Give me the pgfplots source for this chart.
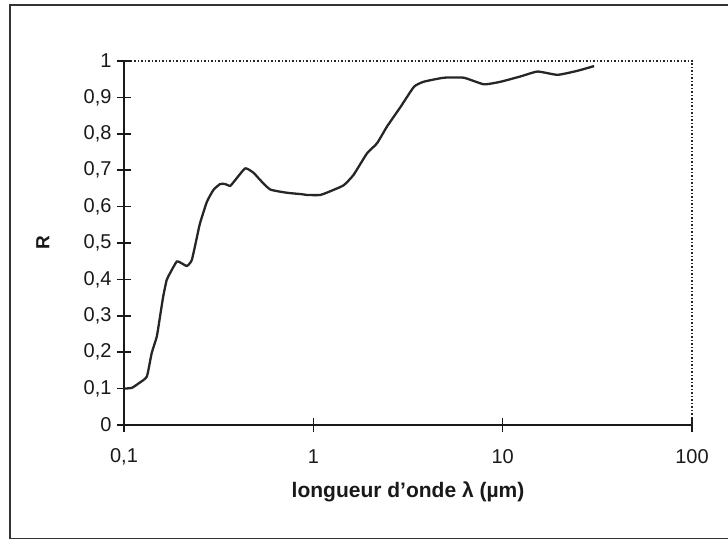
\documentclass[border=0pt]{standalone}
\usepackage{fontspec}
\setmainfont{Liberation Sans}
\usepackage{pgfplots}
\pgfplotsset{compat=1.18}
\begin{document}
\begin{tikzpicture}[x=1pt,y=1pt]
\path[use as bounding box] (0,0) rectangle (728,540);
\draw[line width=1.5pt, black!80] (728,535) -- (10,535) -- (10,1.5) -- (728,1.5);
\begin{axis}[
  at={(124pt,115pt)}, anchor=south west,
  scale only axis, width=568pt, height=364pt,
  xmode=log, log basis x=10,
  xmin=0.1, xmax=100, ymin=0, ymax=1,
  axis x line*=bottom, axis y line*=left,
  axis line style={line width=1.8pt, black!90, -},
  xtick={0.1,1,10,100}, xticklabels={{0,1},1,10,100},
  ytick={0,0.1,0.2,0.3,0.4,0.5,0.6,0.7,0.8,0.9,1},
  yticklabels={0,{0,1},{0,2},{0,3},{0,4},{0,5},{0,6},{0,7},{0,8},{0,9},1},
  minor tick num=0, minor x tick num=0,
  log ticks with fixed point,
  tick align=center, major tick length=14pt,
  tick style={line width=1.5pt, black!90},
  every minor tick/.style={draw=none},
  tick label style={font=\fontsize{20}{23}\selectfont, text=black!90},
  xticklabel style={anchor=center, yshift=-25pt},
  yticklabel style={anchor=east, xshift=-2pt},
  xlabel={\bfseries longueur d'onde λ (µm)},
  ylabel={\bfseries R},
  xlabel style={font=\fontsize{21}{25}\selectfont, text=black!90, at={(axis description cs:0.5,-0.184)}, anchor=center},
  ylabel style={font=\fontsize{19}{22}\selectfont, text=black!90, at={(axis description cs:-0.143,0.5)}, anchor=center},
  clip=false,
]
\draw[dotted, line width=1.5pt, black!85] (rel axis cs:0,1) -- (rel axis cs:1,1) -- (rel axis cs:1,0);
\addplot[line width=2.3pt, black!85, smooth, tension=0.3] coordinates {
(0.1,0.100) (0.11,0.102) (0.12,0.115) (0.132,0.133) (0.140,0.197) (0.149,0.243)
(0.155,0.298) (0.161,0.352) (0.168,0.398) (0.175,0.417) (0.190,0.449) (0.202,0.444)
(0.215,0.437) (0.228,0.453) (0.243,0.517) (0.252,0.554) (0.274,0.613) (0.297,0.646)
(0.322,0.662) (0.342,0.662) (0.364,0.657) (0.387,0.673) (0.437,0.705) (0.483,0.693)
(0.524,0.673) (0.592,0.647) (0.726,0.638) (0.871,0.634) (0.926,0.632) (1.09,0.632)
(1.28,0.646) (1.45,0.659) (1.63,0.687) (1.92,0.746) (2.17,0.774) (2.45,0.820)
(2.89,0.874) (3.40,0.929) (3.83,0.943) (4.89,0.954) (6.24,0.954) (7.96,0.936)
(9.75,0.943) (12.5,0.958) (15.3,0.971) (19.5,0.962) (24.8,0.973) (30.4,0.986)
};
\end{axis}
\end{tikzpicture}
\end{document}
